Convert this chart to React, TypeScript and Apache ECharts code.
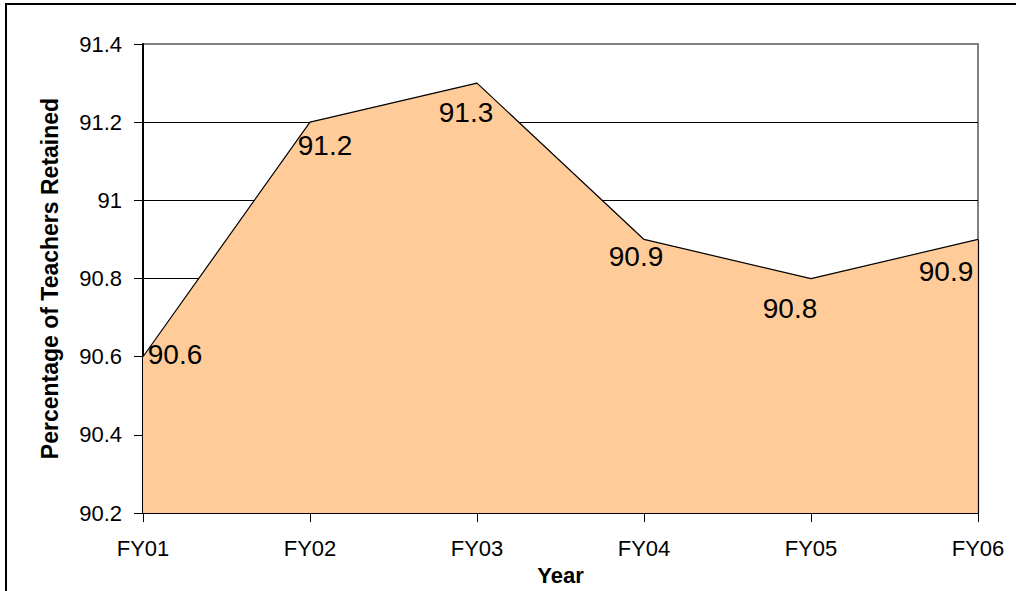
import React, { useEffect, useRef } from "react";
import * as echarts from "echarts";

const categories = ["FY01", "FY02", "FY03", "FY04", "FY05", "FY06"];
const retained = [90.6, 91.2, 91.3, 90.9, 90.8, 90.9];
const labelOffsets: [number, number][] = [
  [32, -2],
  [15, 23],
  [-11, 29],
  [-8, 17],
  [-21, 30],
  [-32, 32],
];
const yMin = 90.2;
const yMax = 91.4;
const yStep = 0.2;

const FONT = "'Liberation Sans', Arial, sans-serif";

export default function App() {
  const ref = useRef<HTMLDivElement>(null);
  useEffect(() => {
    if (!ref.current) return;
    const chart = echarts.init(ref.current, null, { renderer: "svg" });
    const last = categories.length - 1;
    chart.setOption({
      animation: false,
      backgroundColor: "#ffffff",
      textStyle: { fontFamily: FONT },
      graphic: [
        {
          type: "rect",
          shape: { x: 6, y: 4, width: 1200, height: 1000 },
          style: { fill: "none", stroke: "#000", lineWidth: 2 },
          z: 100,
        },
      ],
      grid: {
        left: 143,
        top: 44,
        right: 38,
        bottom: 74,
        show: true,
        borderColor: "#808080",
        borderWidth: 2,
        backgroundColor: "transparent",
      },
      xAxis: {
        type: "category",
        data: categories,
        boundaryGap: false,
        name: "Year",
        nameLocation: "middle",
        nameGap: 42,
        nameTextStyle: { fontFamily: FONT, fontSize: 22, fontWeight: "bold", color: "#000" },
        axisLine: { lineStyle: { color: "#000", width: 2 } },
        axisTick: { show: true, length: 9, lineStyle: { color: "#000", width: 1 }, alignWithLabel: true },
        axisLabel: { fontFamily: FONT, fontSize: 22, color: "#000", margin: 24, interval: 0 },
        splitLine: { show: false },
      },
      yAxis: {
        type: "value",
        min: yMin,
        max: yMax,
        interval: yStep,
        name: "Percentage of Teachers Retained",
        nameLocation: "middle",
        nameGap: 82,
        nameTextStyle: { fontFamily: FONT, fontSize: 23, fontWeight: "bold", color: "#000" },
        axisLine: { show: true, lineStyle: { color: "#000", width: 2 } },
        axisTick: { show: true, length: 9, lineStyle: { color: "#000", width: 1 } },
        axisLabel: {
          fontFamily: FONT,
          fontSize: 22,
          color: "#000",
          margin: 21,
          formatter: (v: number) => String(Math.round(v * 10) / 10),
        },
        splitLine: {
          show: true,
          lineStyle: {
            color: ["#000", "#000", "#000", "#000", "#000", "#000", "#808080"],
            width: 1,
          },
        },
      },
      series: [
        {
          type: "line",
          data: retained.map((v, i) => ({
            value: v,
            label: { offset: labelOffsets[i] },
          })),
          symbol: "circle",
          symbolSize: 1,
          showSymbol: true,
          itemStyle: { color: "rgba(0,0,0,0)" },
          lineStyle: { color: "#000", width: 1.2 },
          areaStyle: { color: "#FFCC99", opacity: 1 },
          label: {
            show: true,
            position: "inside",
            fontFamily: FONT,
            fontSize: 28,
            color: "#000",
            formatter: (p: any) => String(p.value),
          },
          markLine: {
            silent: true,
            symbol: "none",
            label: { show: false },
            lineStyle: { color: "#000", width: 1.2, type: "solid" },
            data: [[{ coord: [last, yMin] }, { coord: [last, retained[last]] }]],
          },
        },
      ],
    });
    return () => chart.dispose();
  }, []);
  return (
    <div
      ref={ref}
      style={{ position: "fixed", left: 0, top: 0, width: 1016, height: 591 }}
    />
  );
}
